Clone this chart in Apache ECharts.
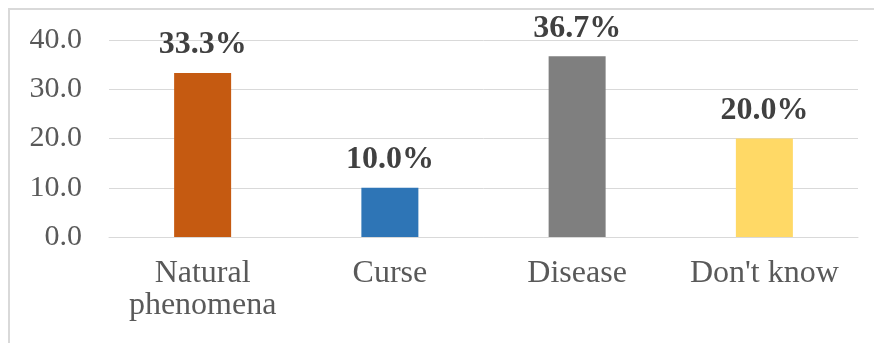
<!DOCTYPE html>
<html>
<head>
<meta charset="utf-8">
<script src="https://cdn.jsdelivr.net/npm/echarts@6/dist/echarts.min.js"></script>
<style>
    html, body { margin: 0; padding: 0; background: #fff; }
    #chart { width: 874px; height: 343px; }
</style>
</head>
<body>
<div id="chart"></div>
<script>
// 分类与数值
var categories = ['Natural\nphenomena', 'Curse', 'Disease', "Don't know"];
var values = [33.3, 10.0, 36.7, 20.0];
var barColors = ['#C55A11', '#2E75B6', '#7F7F7F', '#FFD966'];

var myChart = echarts.init(document.getElementById('chart'));

var barData = [];
for (var i = 0; i < values.length; i++) {
    barData.push({ value: values[i], itemStyle: { color: barColors[i] } });
}

var option = {
    backgroundColor: '#fff',
    animation: false,
    textStyle: {
        fontFamily: '"Liberation Serif", "Times New Roman", serif'
    },
    // 外框
    graphic: [{
        type: 'rect',
        shape: { x: 9, y: 9, width: 900, height: 400 },
        style: { fill: 'none', stroke: '#d9d9d9', lineWidth: 2 },
        silent: true
    }],
    grid: {
        left: 109,
        right: 16,
        top: 40,
        bottom: 106
    },
    xAxis: {
        type: 'category',
        data: categories,
        axisLine: { lineStyle: { color: '#d9d9d9' } },
        axisTick: { show: false },
        axisLabel: {
            color: '#595959',
            fontSize: 32,
            margin: 21,
            lineHeight: 32,
            interval: 0
        }
    },
    yAxis: {
        type: 'value',
        min: 0,
        max: 40,
        interval: 10,
        axisLine: { show: false },
        axisTick: { show: false },
        splitLine: { lineStyle: { color: '#d9d9d9' } },
        axisLabel: {
            color: '#595959',
            fontSize: 30,
            margin: 27,
            formatter: function(value) {
                return value.toFixed(1);
            }
        }
    },
    series: [{
        type: 'bar',
        data: barData,
        barWidth: 57,
        label: {
            show: true,
            position: 'top',
            distance: 12,
            color: '#404040',
            fontSize: 32,
            fontWeight: 'bold',
            formatter: function(params) {
                return params.value.toFixed(1) + '%';
            }
        }
    }]
};
myChart.setOption(option);
</script>
</body>
</html>
